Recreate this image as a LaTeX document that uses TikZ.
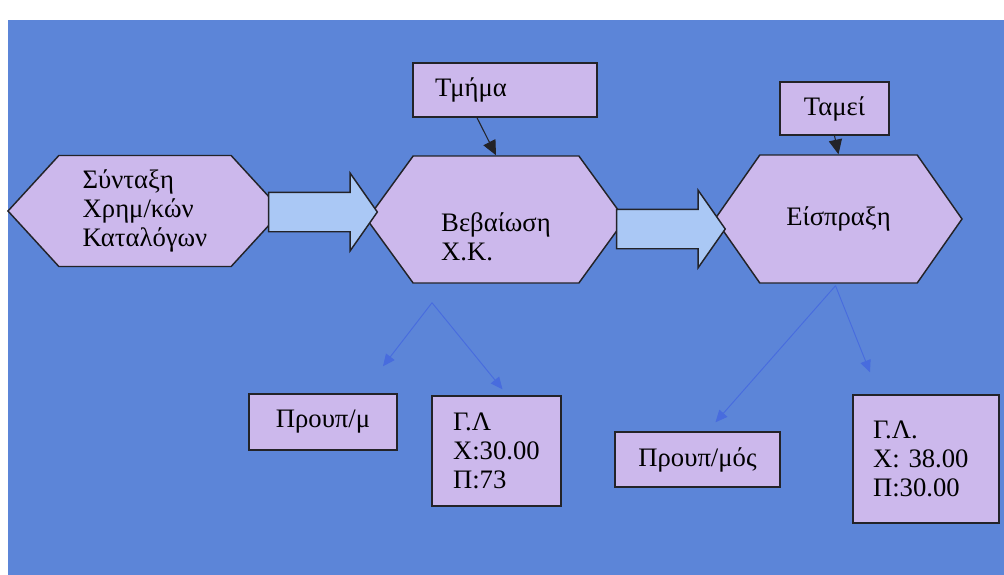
\documentclass[tikz,border=0pt]{standalone}
\usepackage{fontspec}
\setmainfont{Liberation Serif}
\usetikzlibrary{arrows.meta,shapes.symbols,shapes.arrows,calc}
\definecolor{bgblue}{RGB}{92,133,216}
\definecolor{lilac}{RGB}{204,184,236}
\definecolor{shaftblue}{RGB}{170,200,245}
\definecolor{linkblue}{RGB}{72,108,222}
\definecolor{edge}{RGB}{35,35,40}
\tikzset{
  hexa/.style     = {shape=signal, signal to=east and west, draw=edge, fill=lilac,
                     line width=1.1pt, align=left, inner sep=0pt},
  infobox/.style  = {draw=edge, fill=lilac, line width=1.1pt, align=left},
  blockarr/.style = {shape=single arrow, draw=edge, fill=shaftblue, line width=1.1pt,
                     inner xsep=0pt, inner ysep=14.25pt, single arrow head extend=14.25pt,
                     single arrow tip angle=110},
  darkarr/.style  = {-{Triangle[length=11pt,width=10pt]},edge,line width=0.8pt},
  bluearr/.style  = {-{Triangle[length=9pt,width=8pt]},linkblue,line width=0.7pt}
}

\begin{document}
\begin{tikzpicture}[x=0.75pt,y=-0.75pt,font=\fontsize{20}{21.5}\selectfont]
  \useasboundingbox (0,0) rectangle (1004,575);
  \fill[bgblue] (8,20) rectangle (1004,575);
  % steps
  \node[hexa,minimum width=205.5pt,minimum height=83.25pt,signal pointer angle=95]
    (synt) at (145,211) {Σύνταξη\\Χρημ/κών\\Καταλόγων};
  \node[hexa,minimum width=193.5pt,minimum height=95.25pt,signal pointer angle=108]
    (bev) at (496,219.5) {\rule{0pt}{40pt}Βεβαίωση\\Χ.Κ.};
  \node[hexa,minimum width=185.25pt,minimum height=96pt,signal pointer angle=110]
    (eis) at (838.5,219) {Είσπραξη};
  \node[blockarr,anchor=tail] (flow1) at ($(synt.east)+(-15,1)$) {\hspace*{70pt}};
  \node[blockarr,anchor=tail] (flow2) at ($(bev.east)+(-10,9.5)$) {\hspace*{70pt}};
  % who does it
  \node[infobox,inner xsep=16.5pt,text width=105pt,minimum height=40.5pt]
    (tmima) at (505,90) {Τμήμα};
  \node[infobox,minimum width=81.75pt,minimum height=39.75pt]
    (tamei) at (834.5,108.5) {Ταμεί};
  \draw[darkarr] ($(tmima.south)+(-28,0)$) -- (bev.north);
  \draw[darkarr] (tamei.south) -- (eis.north);
  % accounts
  \node[infobox,minimum width=111pt,minimum height=42pt]
    (prm1) at (323,422) {Προυπ/μ};
  \node[infobox,inner xsep=15.75pt,text width=65.25pt,minimum height=82.5pt]
    (gl1) at (496.5,451) {Γ.Λ\\Χ:30.00\\Π:73};
  \node[infobox,minimum width=123.75pt,minimum height=41.25pt]
    (prm2) at (697.5,459.5) {Προυπ/μός};
  \node[infobox,inner xsep=15pt,text width=79.5pt,minimum height=96pt]
    (gl2) at (926,459) {Γ.Λ.\\Χ: 38.00\\Π:30.00};
  \coordinate (fork1) at ($(bev.south)+(-64,19)$);
  \coordinate (fork2) at ($(eis.south)+(-3,2)$);
  \draw[bluearr] (fork1) -- ($(prm1.north)+(60,-27)$);
  \draw[bluearr] (fork1) -- ($(gl1.north)+(6,-6)$);
  \draw[bluearr] (fork2) -- ($(prm2.north)+(18,-9)$);
  \draw[bluearr] (fork2) -- ($(gl2.north)+(-56,-22)$);
\end{tikzpicture}
\end{document}
